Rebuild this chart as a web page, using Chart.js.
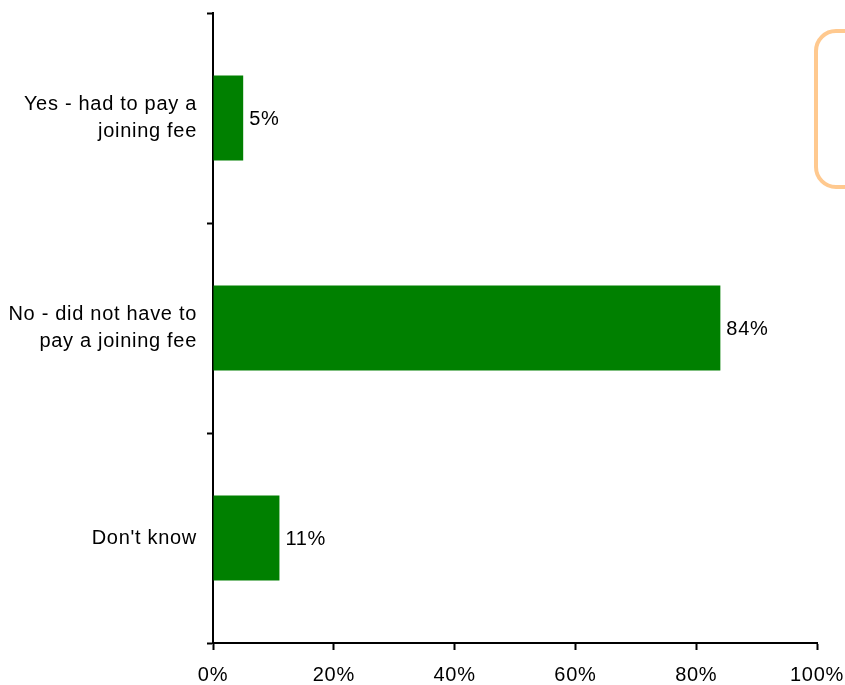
<!DOCTYPE html>
<html>
<head>
<meta charset="utf-8">
<script src="https://cdn.jsdelivr.net/npm/chart.js@4/dist/chart.umd.min.js"></script>
<style>
  html, body { margin: 0; padding: 0; background: #fff; }
  #wrap { width: 845px; height: 685px; }
</style>
</head>
<body>
<div id="wrap"><canvas id="myChart" width="845" height="685"></canvas></div>
<script>
const categories = [
  ["Yes - had to pay a", "joining fee"],
  ["No - did not have to", "pay a joining fee"],
  "Don't know",
];
const values = [5, 84, 11];
const xTicks = [0, 20, 40, 60, 80, 100];

const FONT = "'Liberation Sans', Arial, sans-serif";
const FSIZE = 20;
const SPACING = "0.7px";

// slightly wide letter spacing like the original export
const spacing = {
  id: "spacing",
  beforeLayout(chart) {
    chart.ctx.letterSpacing = SPACING;
  },
  beforeDraw(chart) {
    chart.ctx.letterSpacing = SPACING;
  },
};

// value labels at the end of each bar
const valueLabels = {
  id: "valueLabels",
  afterDatasetsDraw(chart) {
    const ctx = chart.ctx;
    const meta = chart.getDatasetMeta(0);
    ctx.save();
    ctx.letterSpacing = SPACING;
    ctx.font = FSIZE + "px " + FONT;
    ctx.fillStyle = "#000";
    ctx.textAlign = "left";
    ctx.textBaseline = "middle";
    meta.data.forEach((bar, i) => {
      ctx.fillText(values[i] + "%", bar.x + 6, bar.y + 1);
    });
    ctx.restore();
  },
};

// clipped note box at the top right
const noteBox = {
  id: "noteBox",
  afterDraw(chart) {
    const ctx = chart.ctx;
    ctx.save();
    ctx.strokeStyle = "#FFC98F";
    ctx.lineWidth = 4;
    ctx.beginPath();
    ctx.roundRect(816, 31, 80, 156, 20);
    ctx.stroke();
    ctx.restore();
  },
};

const ctx = document.getElementById("myChart");
new Chart(ctx, {
  type: "bar",
  data: {
    labels: categories,
    datasets: [
      {
        data: values,
        backgroundColor: "#008000",
        borderWidth: 0,
        barPercentage: 0.405,
        categoryPercentage: 1,
      },
    ],
  },
  options: {
    indexAxis: "y",
    responsive: false,
    animation: false,
    layout: { padding: { left: 0, right: 28, top: 13, bottom: 0 } },
    scales: {
      x: {
        min: 0,
        max: 100,
        afterBuildTicks(scale) {
          scale.ticks = xTicks.map((v) => ({ value: v }));
        },
        afterFit(scale) {
          scale.height = 42;
          scale.paddingLeft = 0;
          scale.paddingRight = 0;
        },
        ticks: {
          callback: (v) => v + "%",
          color: "#000",
          padding: 13,
          maxRotation: 0,
          font: { size: FSIZE, family: FONT },
        },
        grid: {
          drawOnChartArea: false,
          tickLength: 7,
          tickWidth: 2,
          tickColor: "#000",
        },
        border: { color: "#000", width: 2 },
      },
      y: {
        afterFit(scale) {
          scale.width = 213;
          scale.paddingTop = 0;
          scale.paddingBottom = 0;
        },
        ticks: {
          color: "#000",
          padding: 10,
          font: { size: FSIZE, family: FONT, lineHeight: 1.35 },
        },
        grid: {
          drawOnChartArea: false,
          offset: true,
          tickLength: 6,
          tickWidth: 2,
          tickColor: "#000",
        },
        border: { color: "#000", width: 2 },
      },
    },
    plugins: {
      legend: { display: false },
      tooltip: { enabled: false },
    },
  },
  plugins: [spacing, valueLabels, noteBox],
});
</script>
</body>
</html>
